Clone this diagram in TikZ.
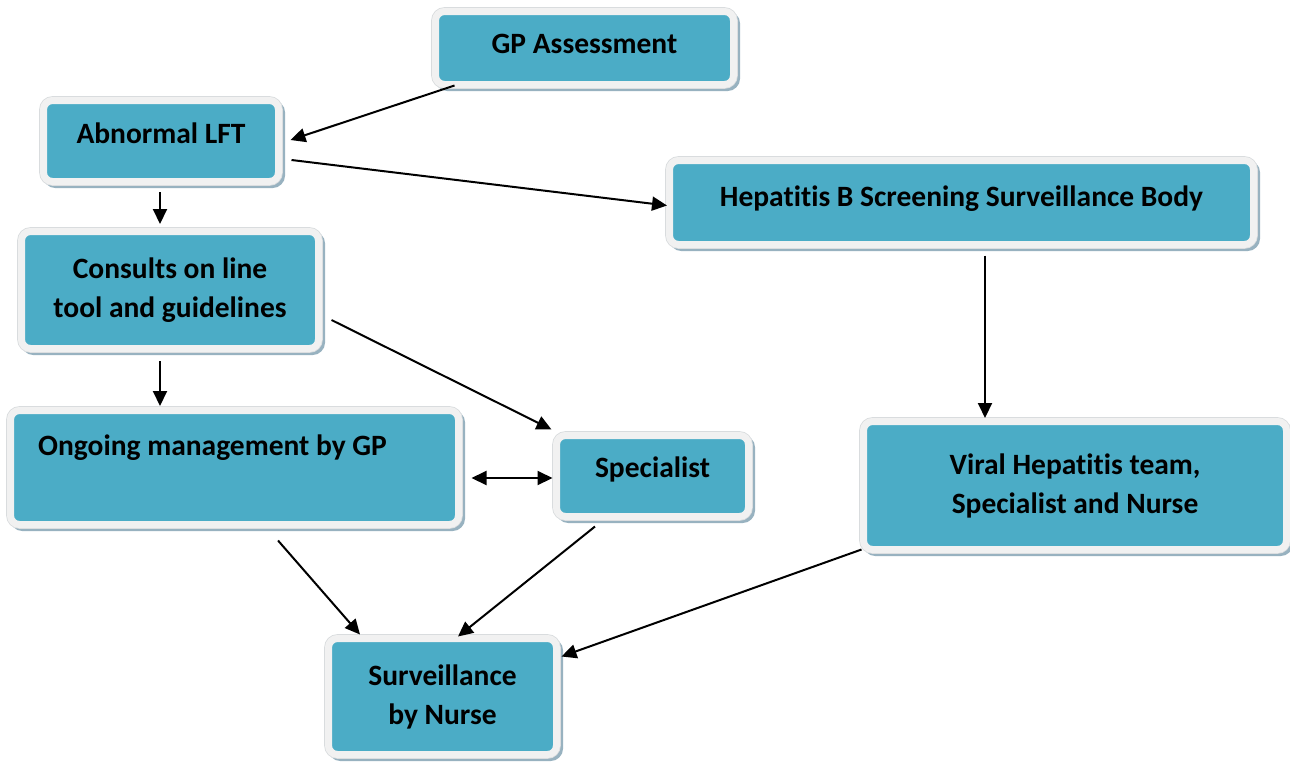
\documentclass[tikz,border=0pt]{standalone}
\usepackage{fontspec}
\setmainfont{Carlito}[Ligatures=NoCommon]
\usetikzlibrary{arrows.meta,calc}
\definecolor{boxfill}{HTML}{4BACC6}
\definecolor{boxrim}{HTML}{F1F1F1}
\definecolor{rimedge}{HTML}{D9DCDE}
\definecolor{boxshadow}{HTML}{98B2C0}
\tikzset{
  flowbox/.style={
    rectangle, rounded corners=9pt, fill=boxfill, draw=boxrim, line width=7pt,
    font=\fontsize{29.5}{39}\selectfont\bfseries, align=center, inner sep=0pt,
    preaction={draw=boxshadow, fill=boxshadow, line width=7pt,
      transform canvas={shift={(3pt,-3pt)}}},
    preaction={draw=rimedge, line width=8.6pt}
  },
  boxtext/.style={font=\fontsize{29.5}{39}\selectfont\bfseries, inner sep=0pt},
  arr/.style={line width=2pt, -{Triangle[length=15pt,width=14pt]}},
  dblarr/.style={line width=2pt, {Triangle[length=15pt,width=14pt]}-{Triangle[length=15pt,width=14pt]}}
}
\begin{document}
\begin{tikzpicture}[x=1pt,y=-1pt]
\useasboundingbox (0,0) rectangle (1290,761);

% boxes
\node[flowbox, minimum width=298pt, minimum height=73pt, text depth=9pt] (gp) at (584.5,48) {GP Assessment};
\node[flowbox, minimum width=235pt, minimum height=81pt, text depth=15pt] (lft) at (161,141) {Abnormal LFT};
\node[flowbox, minimum width=297pt, minimum height=117pt] (cons) at (170,290) {Consults on line\\tool and guidelines};
\node[flowbox, minimum width=448pt, minimum height=114pt] (ong) at (234.5,467.5) {};
\node[boxtext, anchor=west] (ongtxt) at (38,448) {Ongoing management by GP};
\node[flowbox, minimum width=192pt, minimum height=81pt, text depth=17pt] (spec) at (652.5,476) {Specialist};
\node[flowbox, minimum width=584pt, minimum height=84pt, text depth=13pt] (hepb) at (961.5,202.5) {Hepatitis B Screening Surveillance Body};
\node[flowbox, minimum width=423pt, minimum height=128pt] (viral) at (1075,485.5) {Viral Hepatitis team,\\Specialist and Nurse};
\node[flowbox, minimum width=228pt, minimum height=116pt] (surv) at (442.5,696.5) {Surveillance\\by Nurse};

% connectors
\draw[arr] ($(gp.south west)+(22.5,-2.5)$) -- ($(lft.east)+(8.5,-1)$);
\draw[arr] ($(lft.east)+(9.5,19)$) -- ($(hepb.west)+(1,3)$);
\draw[arr] ($(lft.south)+(-1,7)$) -- ($(cons.north)+(-10,-4)$);
\draw[arr] ($(cons.south)+(-10,9)$) -- ($(ong.north)+(-74.5,-1)$);
\draw[arr] ($(cons.east)+(9.5,30)$) -- ($(spec.north west)+(-1.5,-2.5)$);
\draw[dblarr] ($(ong.east)+(9.5,10.5)$) -- ($(spec.west)+(-0.5,2)$);
\draw[arr] ($(hepb.south)+(23.5,7.5)$) -- ($(viral.north)+(-90,0)$);
\draw[arr] ($(ong.south)+(43.5,12.5)$) -- ($(surv.north)+(-82.5,-0.5)$);
\draw[arr] ($(spec.south)+(-57.5,6.5)$) -- ($(surv.north)+(15.5,1.5)$);
\draw[arr] ($(viral.south west)+(1.5,-3.5)$) -- ($(surv.north east)+(1.5,21.5)$);
\end{tikzpicture}
\end{document}
